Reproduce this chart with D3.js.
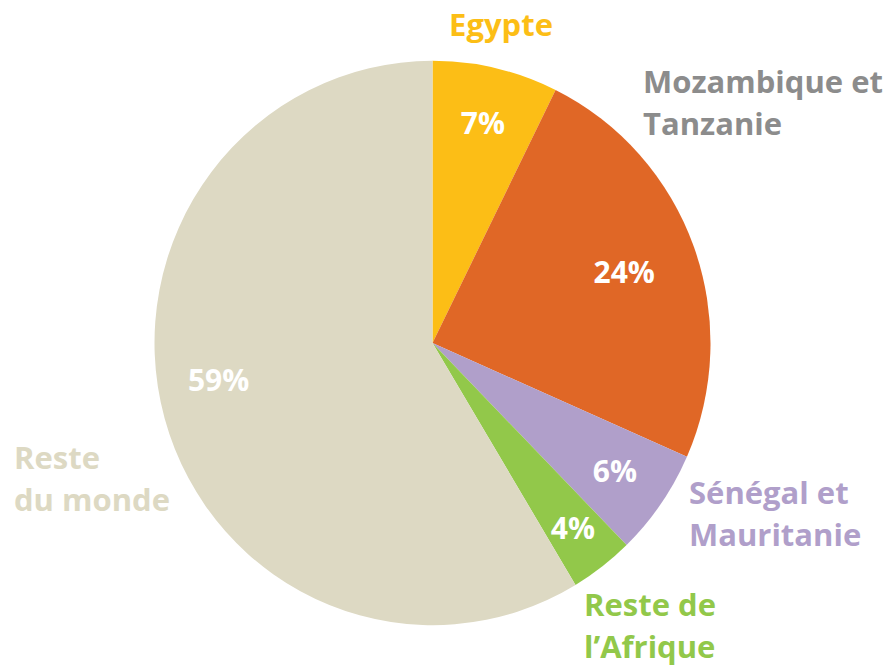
<!DOCTYPE html>
<html>
<head>
<meta charset="utf-8">
<script src="https://cdn.jsdelivr.net/npm/d3@7"></script>
<style>
  html, body { margin: 0; padding: 0; background: #fff; }
  svg text { font-family: 'Open Sans', sans-serif; font-weight: 700; }
</style>
</head>
<body>
<div class="chart"></div>
<script>
// slices, clockwise from 12 o'clock
const categories = ['Egypte', 'Mozambique et Tanzanie', 'Sénégal et Mauritanie', 'Reste de l\u2019Afrique', 'Reste du monde']
const shares = [7.3, 24.3, 6.1, 3.7, 58.6]
const pctLabels = ['7%', '24%', '6%', '4%', '59%']
const nameLines = [['Egypte'], ['Mozambique et', 'Tanzanie'], ['Sénégal et', 'Mauritanie'], ['Reste de', 'l\u2019Afrique'], ['Reste', 'du monde']]

const sliceColors = ['#FCBE16', '#E06726', '#B09FCA', '#92C84A', '#DDD9C3']
const nameColors = ['#FCBE16', '#8C8C8C', '#B09FCA', '#92C84A', '#DDD9C3']

const width = 891
const height = 668
const cx = 432.5
const cy = 343
const radius = 278
const squash = 1.015 // pie is a touch taller than wide

// distance of each percent label from the centre, and a small turn (degrees) off the mid angle
const labelRadius = [222, 204, 222, 230, 217]
const labelTurn = [0, 0, 0, 0, 5.7]

// where the outside names sit (anchor, x, first baseline)
const nameSpots = [
  { anchor: 'middle', x: 501, y: 36 },
  { anchor: 'start', x: 643, y: 93 },
  { anchor: 'start', x: 689, y: 504 },
  { anchor: 'start', x: 584, y: 616 },
  { anchor: 'start', x: 14, y: 469 }
]
const lineGap = 42

const svg = d3
  .select('.chart')
  .append('svg')
  .attr('width', width)
  .attr('height', height)

const data = categories.map((c, i) => ({ name: c, value: shares[i], i: i }))

const pie = d3
  .pie()
  .sort(null)
  .value((d) => d.value)

const arcs = pie(data)

const arc = d3.arc().innerRadius(0).outerRadius(radius)

function labelPos(d) {
  const r = labelRadius[d.data.i]
  const a = (d.startAngle + d.endAngle) / 2 + (labelTurn[d.data.i] * Math.PI) / 180
  return [cx + r * Math.sin(a), cy - r * Math.cos(a) * squash]
}

svg
  .append('g')
  .attr('transform', 'translate(' + cx + ',' + cy + ') scale(1,' + squash + ')')
  .selectAll('path')
  .data(arcs)
  .enter()
  .append('path')
  .attr('d', arc)
  .attr('fill', (d) => sliceColors[d.data.i])

// percent labels inside slices
svg
  .append('g')
  .selectAll('text')
  .data(arcs)
  .enter()
  .append('text')
  .attr('x', (d) => labelPos(d)[0])
  .attr('y', (d) => labelPos(d)[1])
  .attr('dy', '0.36em')
  .attr('text-anchor', 'middle')
  .attr('fill', '#fff')
  .style('font-size', '30px')
  .text((d) => pctLabels[d.data.i])

// category names outside
const names = svg
  .append('g')
  .selectAll('text')
  .data(arcs)
  .enter()
  .append('text')
  .attr('text-anchor', (d) => nameSpots[d.data.i].anchor)
  .attr('fill', (d) => nameColors[d.data.i])
  .style('font-size', '31px')

names
  .selectAll('tspan')
  .data((d) => nameLines[d.data.i].map((t) => ({ t: t, spot: nameSpots[d.data.i] })))
  .enter()
  .append('tspan')
  .attr('x', (d) => d.spot.x)
  .attr('y', (d, j) => d.spot.y + j * lineGap)
  .text((d) => d.t)
</script>
</body>
</html>
